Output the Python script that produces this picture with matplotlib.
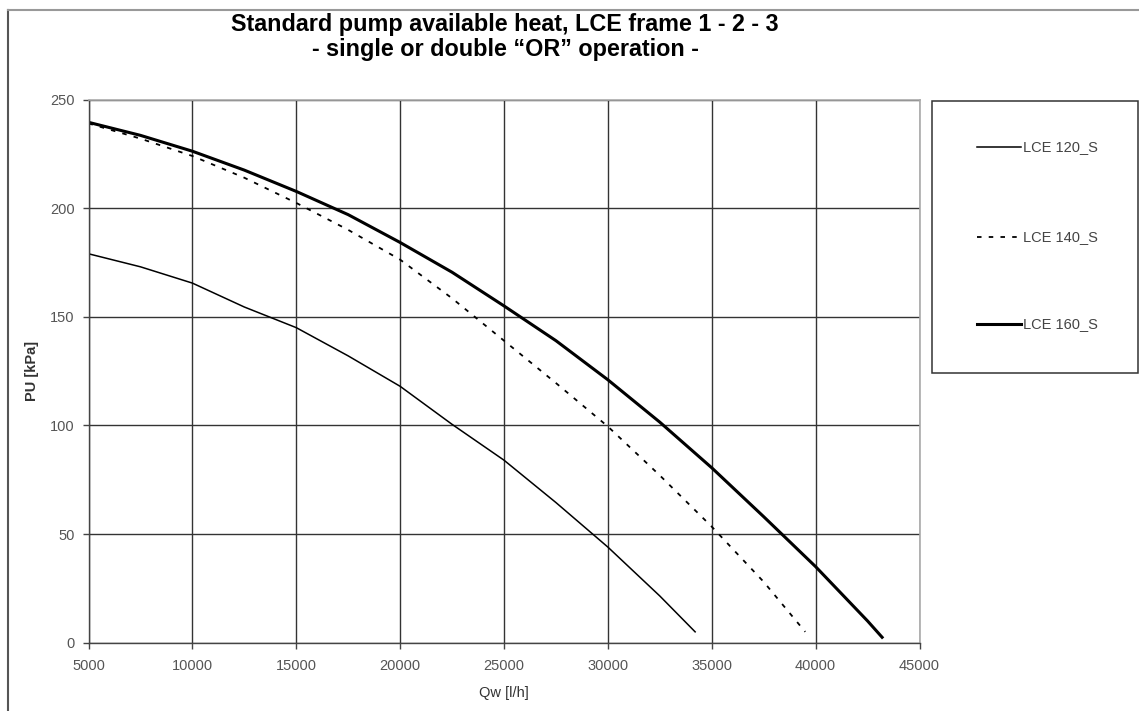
import numpy as np
import matplotlib.pyplot as plt
from matplotlib.lines import Line2D
from matplotlib.patches import Rectangle

plt.rcParams['font.family'] = ['Liberation Sans', 'DejaVu Sans']

# flow rate [l/h] and available head [kPa]
qw_120 = [5000, 7500, 10000, 12500, 15000, 17500, 20000, 22500, 25000, 27500, 30000, 32500, 34200]
pu_120 = [179, 173, 165.5, 154.5, 145, 132, 118, 100.5, 84, 64.5, 44, 21.5, 5]

qw_140 = [5000, 7500, 10000, 12500, 15000, 17500, 20000, 22500, 25000, 27500, 30000, 32500, 35000, 37500, 39500]
pu_140 = [239, 232, 224, 214, 202.4, 190, 176.3, 158.5, 139, 119.5, 99.5, 77, 53.4, 28, 5]

qw_160 = [5000, 7500, 10000, 12500, 15000, 17500, 20000, 22500, 25000, 27500, 30000, 32500, 35000, 37500, 40000, 42500, 43200]
pu_160 = [239.5, 233.5, 226.2, 217.5, 207.7, 197, 184.2, 170.5, 155, 139, 121, 101.5, 80.5, 58, 35, 10, 2.5]

labels = ['LCE 120_S', 'LCE 140_S', 'LCE 160_S']
x_ticks = [5000, 10000, 15000, 20000, 25000, 30000, 35000, 40000, 45000]
y_ticks = [0, 50, 100, 150, 200, 250]

W, H = 1139, 711
fig = plt.figure(figsize=(W / 100, H / 100), dpi=100)
ax = fig.add_axes([88.5 / W, 1 - 642.7 / H, (919.5 - 88.5) / W, (642.7 - 99.5) / H])

styles = [
    dict(color='black', lw=1.1, ls='-'),
    dict(color='black', lw=1.3, ls=(0, (2.5, 4))),
    dict(color='black', lw=2.2, ls='-'),
]
series = [(qw_120, pu_120), (qw_140, pu_140), (qw_160, pu_160)]

for (q, p), st in zip(series, styles):
    ax.plot(q, p, **st)

ax.set_xlim(5000, 45000)
ax.set_ylim(0, 250)
ax.set_xticks(x_ticks)
ax.set_yticks(y_ticks)
ax.grid(True, color='#333333', lw=1.0)
ax.set_axisbelow(True)
for side in ['left', 'bottom']:
    ax.spines[side].set_color('#444444')
    ax.spines[side].set_linewidth(1.0)
for side in ['top', 'right']:
    ax.spines[side].set_color('#aaaaaa')
    ax.spines[side].set_linewidth(1.2)
ax.tick_params(direction='out', length=4, width=1.0, color='#444444',
               labelsize=10.5, labelcolor='#555555')
ax.tick_params(axis='y', pad=6)
ax.tick_params(axis='x', pad=8)
ax.set_xlabel('Qw [l/h]', fontsize=10.5, color='#333333', labelpad=9)
ax.set_ylabel('PU [kPa]', fontsize=10.5, fontweight='bold', color='#333333', labelpad=8)

# title
fig.text(505 / W, 1 - 31 / H, 'Standard pump available heat, LCE frame 1 - 2 - 3',
         ha='center', va='baseline', fontsize=16.8, fontweight='bold')
fig.text(505 / W, 1 - 56 / H, '- single or double \u201cOR\u201d operation -',
         ha='center', va='baseline', fontsize=16.8, fontweight='bold')

# outer chart frame (left and top edges visible)
fig.add_artist(Line2D([8 / W, 8 / W], [0, 1 - 10 / H], transform=fig.transFigure,
                      color='#555555', lw=1.5))
fig.add_artist(Line2D([8 / W, 1], [1 - 10 / H, 1 - 10 / H], transform=fig.transFigure,
                      color='#999999', lw=1.5))

# legend box
fig.add_artist(Rectangle((932 / W, 1 - 373 / H), (1137.5 - 932) / W, (373 - 100.7) / H,
                         transform=fig.transFigure, fill=False, ec='#333333', lw=1.1))
leg_y = [147, 237, 324]
for lab, st, yy in zip(labels, styles, leg_y):
    fig.add_artist(Line2D([977 / W, 1021 / W], [1 - yy / H, 1 - yy / H],
                          transform=fig.transFigure, **st))
    fig.text(1023 / W, 1 - yy / H, lab, ha='left', va='center', fontsize=10.5,
             color='#444444')

fig.savefig('out.png', dpi=100)
